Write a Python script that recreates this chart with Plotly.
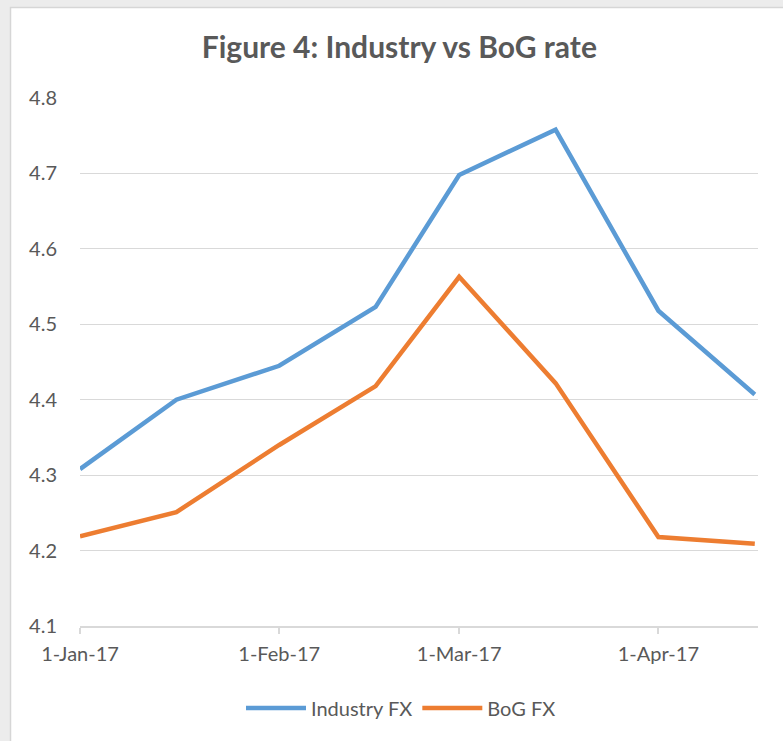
import plotly.graph_objects as go

dates = ["2017-01-01", "2017-01-16", "2017-02-01", "2017-02-16",
         "2017-03-01", "2017-03-16", "2017-04-01", "2017-04-16"]
industry_fx = [4.308, 4.400, 4.445, 4.523, 4.698, 4.758, 4.518, 4.407]
bog_fx = [4.219, 4.251, 4.340, 4.418, 4.563, 4.422, 4.218, 4.209]
y_ticks = [4.1, 4.2, 4.3, 4.4, 4.5, 4.6, 4.7, 4.8]

FONT = "Lato"
GRAY = "#595959"

fig = go.Figure()
fig.add_trace(go.Scatter(x=dates, y=industry_fx, mode="lines", name="Industry FX",
                         line=dict(color="#5b9bd5", width=4.5)))
fig.add_trace(go.Scatter(x=dates, y=bog_fx, mode="lines", name="BoG FX",
                         line=dict(color="#ed7d31", width=4.5)))

W, H = 783, 741
L, R, T, B = 80, 25, 98, 115
pw, ph = W - L - R, H - T - B

fig.add_shape(type="rect", xref="paper", yref="paper",
              x0=(10.5 - L) / pw, x1=1.2, y0=-0.4, y1=(H - B - 7.5) / ph,
              fillcolor="white", line=dict(color="#d6d6d6", width=1.5), layer="below")

fig.update_layout(
    width=W, height=H,
    margin=dict(l=L, r=R, t=T, b=B),
    paper_bgcolor="#ececec", plot_bgcolor="white",
    font=dict(family=FONT, color=GRAY, size=20),
    title=dict(text="<b>Figure 4: Industry vs BoG rate</b>", x=0.51, xref="container",
               xanchor="center", y=1 - 47 / H, yanchor="middle",
               font=dict(family=FONT, size=30, color=GRAY)),
    showlegend=True,
    legend=dict(orientation="h", x=(401 - L) / pw, xanchor="center",
                y=-(708 - (H - B)) / ph, yanchor="middle", itemwidth=60,
                font=dict(family=FONT, size=20, color=GRAY), bgcolor="rgba(0,0,0,0)"),
    xaxis=dict(type="date", range=["2017-01-01", "2017-04-16 12:00"],
               tick0="2017-01-01", dtick="M1", tickformat="%-d-%b-%y",
               showgrid=False, showline=True, linecolor="#d9d9d9", linewidth=1.5,
               ticks="outside", ticklen=6, tickcolor="#d9d9d9", tickwidth=1.5,
               ticklabelstandoff=3,
               tickfont=dict(family=FONT, size=20, color=GRAY), zeroline=False),
    yaxis=dict(range=[4.1, 4.8], tickvals=y_ticks, ticktext=[f"{v:.1f}" for v in y_ticks],
               showgrid=True, gridcolor="#d9d9d9", gridwidth=1.3,
               showline=False, zeroline=False, ticks="", ticklabelstandoff=22,
               tickfont=dict(family=FONT, size=20, color=GRAY)),
)

fig.write_html("out.html", config={"displayModeBar": False},
               post_script="document.body.style.margin='0';")
